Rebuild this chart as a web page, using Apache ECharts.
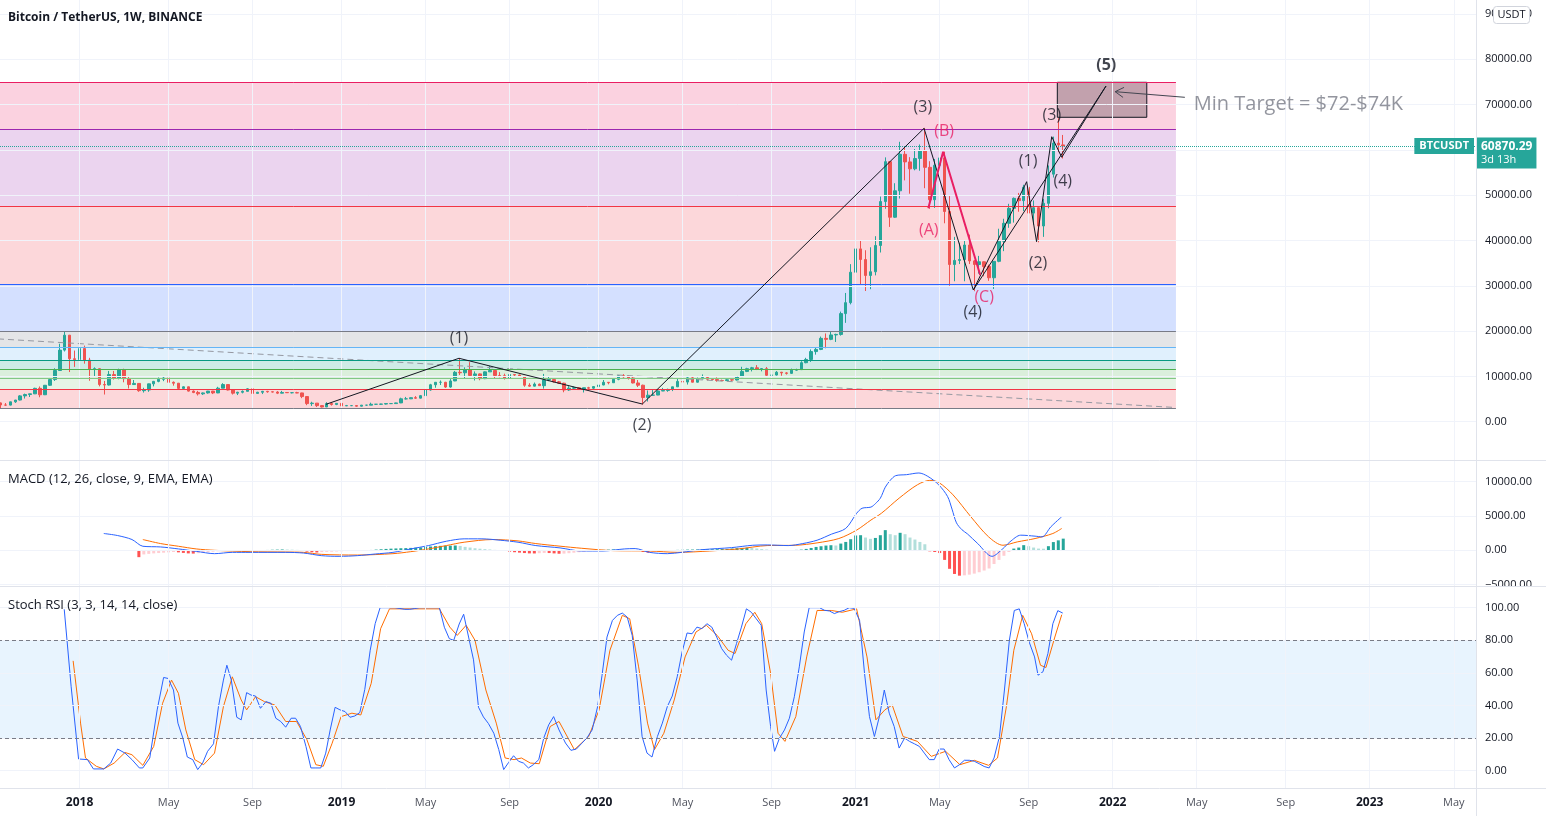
<!DOCTYPE html>
<html>
<head>
<meta charset="utf-8">
<title>Bitcoin / TetherUS, 1W, BINANCE</title>
<script src="https://cdn.jsdelivr.net/npm/echarts@6/dist/echarts.min.js"></script>
<style>
html, body { margin: 0; padding: 0; background: #fff; }
#chart { width: 1546px; height: 816px; }
</style>
</head>
<body>
<div id="chart"></div>
<script>
// weekly bars, first visible week 2017-09-11
const firstWeek = Date.UTC(2017, 8, 11)
const weekCount = 299
const tickWeeks = [
  '2018-01-01', '2018-05-07', '2018-09-03', '2019-01-07', '2019-05-06', '2019-09-02',
  '2020-01-06', '2020-05-04', '2020-09-07', '2021-01-04', '2021-05-03', '2021-09-06',
  '2022-01-03', '2022-05-02', '2022-09-05', '2023-01-02', '2023-05-01'
]
const priceTicks = [0, 10000, 20000, 30000, 40000, 50000, 60000, 70000, 80000, 90000]
const macdTicks = [-5000, 0, 5000, 10000]
const stochTicks = [0, 20, 40, 60, 80, 100]

// [open, close, low, high]
const candles2017 = [
  [4150, 3690, 2817, 4250], [3690, 3660, 3500, 4120], [3660, 4380, 3600, 4400], [4380, 4780, 4150, 4800],
  [4780, 5700, 4700, 5860], [5700, 6000, 5110, 6200], [6000, 6150, 5450, 6170], [6150, 7360, 6100, 7500],
  [7360, 5950, 5400, 7776], [5950, 8040, 5880, 8100], [8040, 9300, 7900, 9650], [9300, 11300, 9000, 11800],
  [11300, 15800, 11200, 17204], [15800, 19100, 15500, 19798], [19100, 13900, 10961, 19150], [13900, 13715, 12100, 15700]
]
const candles2018 = [
  [13715, 16150, 12750, 17252], [16150, 13600, 12812, 16800], [13600, 11600, 9035, 14100], [11600, 11700, 10000, 12000],
  [11700, 8200, 7800, 11800], [8200, 8100, 6000, 9000], [8100, 10400, 8000, 11200], [10400, 9600, 9300, 11200],
  [9600, 11400, 9350, 11700], [11400, 9500, 8700, 11700], [9500, 8200, 7322, 9900], [8200, 8450, 8100, 9200],
  [8450, 6850, 6600, 8500], [6850, 7000, 6430, 7500], [7000, 8350, 6600, 8400], [8350, 8900, 7800, 9000],
  [8900, 9350, 8700, 9760], [9350, 9650, 8950, 9990], [9650, 8700, 8400, 9650], [8700, 8500, 7950, 8880],
  [8500, 7350, 7060, 8550], [7350, 7700, 7100, 7800], [7700, 6750, 6650, 7760], [6750, 6450, 6300, 6900],
  [6450, 6150, 5780, 6800], [6150, 6350, 5900, 6450], [6350, 6750, 6200, 6800], [6750, 6350, 6100, 6800],
  [6350, 7400, 6300, 7700], [7400, 8200, 7400, 8500], [8200, 7000, 6900, 8250], [7000, 6300, 6000, 7150],
  [6300, 6500, 5880, 6600], [6500, 6700, 6250, 6900], [6700, 7250, 6700, 7400], [7250, 6250, 6100, 7400],
  [6250, 6500, 6200, 6600], [6500, 6700, 6100, 6800], [6700, 6600, 6400, 6800], [6600, 6550, 6460, 6650],
  [6550, 6300, 6100, 6750], [6300, 6450, 6250, 6800], [6450, 6400, 6350, 6530], [6400, 6400, 6250, 6540],
  [6400, 6350, 6300, 6600], [6350, 5550, 5200, 6400], [5550, 4000, 3650, 5650], [4000, 4100, 3480, 4400],
  [4100, 3550, 3250, 4100], [3550, 3250, 3150, 3630], [3250, 4000, 3250, 4300], [4000, 3800, 3550, 4230],
  [3800, 4050, 3650, 4100]
]
const candles2019 = [
  [4050, 3500, 3450, 4150], [3500, 3550, 3500, 3700], [3550, 3550, 3450, 3650], [3550, 3430, 3350, 3600],
  [3430, 3650, 3370, 3700], [3650, 3650, 3550, 3700], [3650, 3850, 3650, 4200], [3850, 3850, 3700, 3900],
  [3850, 3900, 3700, 3950], [3900, 4000, 3800, 4000], [4000, 4000, 3900, 4100], [4000, 4150, 3950, 4200],
  [4150, 5050, 4100, 5300], [5050, 5050, 4900, 5470], [5050, 5300, 5000, 5350], [5300, 5200, 5050, 5650],
  [5200, 5750, 5150, 5900], [5750, 7000, 5600, 7450], [7000, 8150, 6850, 8350], [8150, 8700, 7500, 8750],
  [8700, 8700, 8100, 9100], [8700, 7650, 7450, 8800], [7650, 9000, 7500, 9400], [9000, 10900, 8950, 11200],
  [10900, 10800, 10300, 13970], [10800, 11450, 9600, 12000], [11450, 10200, 10000, 13150], [10200, 10550, 9100, 11100],
  [10550, 9500, 9150, 10650], [9500, 11000, 9400, 11100], [11000, 11300, 11000, 12300], [11300, 10200, 9450, 11400],
  [10200, 10150, 9800, 10950], [10150, 9600, 9300, 10600], [9600, 10400, 9600, 10900], [10400, 10300, 9950, 10450],
  [10300, 10000, 9900, 10400], [10000, 8050, 7710, 10050], [8050, 7850, 7750, 8500], [7850, 8300, 7800, 8650],
  [8300, 7950, 7900, 8400], [7950, 9200, 7300, 10550], [9200, 9300, 8950, 9900], [9300, 8800, 8650, 9500],
  [8800, 8500, 8350, 9000], [8500, 7000, 6500, 8600], [7000, 7400, 6800, 7850], [7400, 7500, 7100, 7750],
  [7500, 7100, 7050, 7650], [7100, 7500, 6450, 7520], [7500, 7400, 7100, 7700], [7400, 7750, 7000, 7800]
]
const candles2020 = [
  [7750, 8100, 7700, 8450], [8100, 8700, 8050, 9200], [8700, 8600, 8250, 8750], [8600, 9350, 8600, 9600],
  [9350, 10150, 9150, 10200], [10150, 9900, 9700, 10500], [9900, 9650, 9300, 10250], [9650, 8550, 8450, 9950],
  [8550, 8050, 7650, 9200], [8050, 5350, 3782, 8180], [5350, 5850, 4450, 6900], [5850, 5880, 5670, 6980],
  [5880, 6770, 5850, 7200], [6770, 6900, 6750, 7470], [6900, 7120, 6600, 7300], [7120, 7700, 6750, 7720],
  [7700, 8900, 7650, 9480], [8900, 8750, 8100, 10070], [8750, 9680, 8200, 9950], [9680, 8720, 8680, 9900],
  [8720, 9450, 8630, 9740], [9450, 9750, 9380, 10430], [9750, 9380, 9120, 9990], [9380, 9300, 9200, 9590],
  [9300, 9100, 8830, 9780], [9100, 9080, 8950, 9300], [9080, 9250, 9050, 9480], [9250, 9200, 9000, 9300],
  [9200, 9950, 9100, 10000], [9950, 11100, 9950, 12120], [11100, 11700, 10950, 11900], [11700, 11900, 11100, 12100],
  [11900, 11650, 11400, 12490], [11650, 11700, 11120, 11800], [11700, 10250, 9900, 12080], [10250, 10300, 9900, 10600],
  [10300, 10920, 10200, 11180], [10920, 10770, 10140, 10990], [10770, 10670, 10400, 10950], [10670, 11380, 10550, 11720],
  [11380, 11500, 11250, 11700], [11500, 13030, 11400, 13350], [13030, 13740, 12900, 14100], [13740, 15480, 13200, 15960],
  [15480, 15960, 14800, 16480], [15960, 18400, 15800, 18800], [18400, 18180, 16200, 19480], [18180, 19150, 18000, 19920],
  [19150, 19260, 17600, 19420], [19260, 23860, 19000, 24300], [23860, 26280, 21820, 28420], [26280, 33000, 25900, 34780]
]
const candles2021 = [
  [33000, 38150, 27700, 41950], [38150, 35800, 30400, 40100], [35800, 32280, 28850, 37850], [32280, 33100, 29250, 38500],
  [33100, 38900, 32300, 40950], [38900, 48600, 37350, 49700], [48600, 57400, 47000, 58350], [57400, 45140, 43000, 57550],
  [45140, 50970, 45000, 52640], [50970, 59030, 49270, 61790], [59030, 57350, 53270, 60630], [57350, 55820, 50330, 58400],
  [55820, 58100, 55500, 60200], [58100, 59800, 55400, 61200], [59800, 56150, 51540, 64854], [56150, 49000, 47000, 57500],
  [49000, 56600, 47200, 58000], [56600, 58230, 53000, 59500], [58230, 46400, 43800, 59600], [46400, 34700, 30000, 49800],
  [34700, 35600, 31000, 40800], [35600, 35800, 34800, 39500], [35800, 39000, 31000, 40000], [39000, 35500, 34800, 41300],
  [35500, 34700, 28805, 35700], [34700, 35300, 32700, 36600], [35300, 34250, 32100, 35400], [34250, 31780, 31100, 34650],
  [31780, 35400, 29300, 35400], [35400, 39850, 35200, 42600], [39850, 43800, 37650, 44800], [43800, 47100, 42800, 48100],
  [47100, 49300, 43950, 49500], [49300, 48800, 46350, 50500], [48800, 51750, 46500, 52300], [51750, 46050, 42800, 52920],
  [46050, 47250, 43500, 48850], [47250, 43200, 39600, 47330], [43200, 48200, 40800, 49200], [48200, 54650, 47100, 56560],
  [54650, 61500, 53900, 62933], [61500, 61100, 59500, 67000], [61100, 60870, 58100, 63300]
]
const lastPrice = 60870.29
const barCountdown = '3d 13h'

// fibonacci extension levels (price) and their colours
const fibPrices = [2960, 7150, 9580, 11570, 13550, 16420, 19870, 30400, 47620, 64500, 74990]
const fibColors = ['#787b86', '#f23645', '#81c784', '#4caf50', '#089981', '#64b5f6', '#787b86', '#2962ff', '#f23645', '#9c27b0', '#e91e63']
const fibSpan = [-0.5, 237.8] // week index range of the fib tool

// drawings, [week index, price]
const trendDashed = [[-0.5, 18280], [237.8, 3130]]
const waveMain = [[65.86, 3840], [92.76, 14000], [129.85, 3900], [186.84, 64770], [196.8, 29070]]
const waveLong = [[196.8, 29070], [223.65, 74100]]
const waveSub = [[196.8, 29070], [207.6, 52980], [209.6, 39740], [212.67, 62910], [214.7, 58370], [223.65, 74100]]
const waveABC = [[187.7, 47110], [190.7, 59600], [198.2, 32380]]
const targetBox = [[213.8, 67200], [231.9, 74920]]
const arrowShaft = [[239.6, 71610], [225.5, 72850]]
const arrowHead = [[227.3, 73800], [225.5, 72850], [227.1, 71590]]
const waveLabels = [
  [92.76, 18480, '(1)'], [129.8, -730, '(2)'], [186.6, 69470, '(3)'], [196.7, 24220, '(4)'],
  [207.9, 57550, '(1)'], [209.9, 35030, '(2)'], [212.7, 67700, '(3)'], [214.9, 53130, '(4)']
]
const abcLabels = [[187.8, 42320, '(A)'], [190.9, 64170, '(B)'], [199.0, 27530, '(C)']]
const fifthLabel = [223.7, 78740, '(5)']
const targetNote = [241.3, 70130, 'Min Target = $72-$74K']

// MACD (12, 26, close, 9), [week index, value]
const macdLine = [
  [20.9, 2450], [23.7, 2150], [26.6, 1570], [28.8, 590], [32.4, 490], [36, 200], [39.6, -150], [43.3, -490],
  [46.9, -300], [50.5, -300], [57.7, -300], [61.3, -400], [64.9, -780], [68.5, -880], [72.2, -780], [75.8, -540],
  [79.4, -300], [83, 200], [86.6, 690], [90.2, 1320], [93.8, 1670], [97.4, 1670], [101.1, 1470], [104.7, 1180],
  [108.3, 690], [113.2, 350], [117.5, -100], [121.9, -100], [126.2, 200], [128.4, 250], [131.3, -300], [134.9, -490],
  [137.8, -300], [142.1, 100], [147.9, 390], [152.2, 735], [155.1, 780], [159.4, 690], [162.3, 980], [165.2, 1470],
  [168.1, 2350], [171, 3190], [173.2, 5390], [174.3, 6125], [176.1, 6300], [177, 6800], [178, 7600], [179, 9200],
  [180, 10200], [181.1, 10880], [183.3, 11025], [185.8, 11270], [187.6, 10780], [189.8, 9555], [191.6, 7840],
  [192.5, 6000], [193.4, 4000], [194.5, 3000], [195.6, 2400], [197.7, 980], [200.6, -880], [202.8, 245],
  [204.2, 1225], [206.4, 2205], [209.3, 2060], [210.7, 1960], [212.5, 3430], [214.7, 4900]
]
const macdSignal = [
  [28.8, 1570], [32.4, 980], [36, 590], [39.6, 200], [43.3, 0], [50.5, -200], [57.7, -250], [61.3, -300],
  [64.9, -590], [72.2, -690], [79.4, -490], [83, -200], [86.6, 200], [90.2, 690], [93.8, 1180], [99.6, 1570],
  [104.7, 1370], [108.3, 980], [113.2, 600], [117.5, 300], [124, -50], [131.3, -100], [137, -300], [143.5, -100],
  [149.3, 200], [155.1, 690], [160.9, 735], [165.2, 1080], [169.6, 1715], [173.2, 2940], [176.1, 4410], [178.2, 5390],
  [181.8, 7600], [185.5, 9555], [188, 10190], [189.8, 9900], [192.7, 8085], [196.3, 4900], [199.9, 1960],
  [202.8, 735], [205.7, 1225], [209.3, 1715], [212.9, 2450], [214.7, 3185]
]
const histStart = 28
const macdHist = [
  -1000, -600, -520, -450, -400, -350, -300, -250, -300, -380,
  -450, -480, -420, -350, -280, -200, -150, -100, -60, -80,
  -70, -50, -40, -30, -10, 30, 50, 80, 100, 120,
  110, 90, 60, -100, -200, -280, -320, -260, -220, -200,
  -170, -140, -110, -90, -70, -50, -20, 50, 100, 150,
  200, 240, 270, 300, 320, 350, 380, 420, 480, 550,
  610, 650, 660, 680, 700, 640, 500, 400, 300, 230,
  170, 120, 60, 20, -100, -200, -280, -340, -400, -450,
  -460, -420, -380, -400, -450, -500, -480, -420, -350, -280,
  -200, -120, -60, 20, 60, 100, 130, 110, 70, 30,
  -30, -100, -250, -350, -300, -230, -160, -90, -30, 60,
  80, 100, 110, 120, 130, 140, 150, 160, 180, 200,
  260, 320, 350, 380, 330, 260, 180, 110, 60, 20,
  -20, -30, 10, 60, 100, 200, 340, 490, 590, 690,
  740, 700, 980, 1220, 1620, 2160, 2200, 1860, 1670, 1800,
  2200, 2940, 2350, 2200, 2550, 2350, 1860, 1570, 1220, 880,
  -150, -250, -400, -1400, -2700, -3450, -3700, -3650, -3550, -3400,
  -3200, -2950, -2650, -2000, -1400, -800, -250, 250, 400, 750,
  600, 400, 250, 230, 600, 1200, 1450, 1700
]

// Stoch RSI (3, 3, 14, 14), [week index, value]
const stochK = [
  [12.9, 99], [14.3, 51.5], [15.8, 7.2], [17.6, 6.8], [18.8, 1.1], [20.9, 1.1], [22.3, 4.7], [23.7, 13.3],
  [25.2, 10.8], [26.6, 6.8], [28.1, 1.7], [28.8, 1.7], [30.2, 7.8], [31.7, 37.3], [33, 57.2], [33.9, 56.6],
  [35, 49.5], [35.9, 29.2], [36.9, 20], [37.8, 8.4], [38.9, 6.8], [39.9, 0.7], [40.9, 4.7], [41.9, 11.9],
  [43.1, 16.5], [44.1, 39.3], [45.1, 55.6], [45.8, 64.7], [46.7, 55.6], [47.8, 32.8], [48.7, 31.2], [49.8, 47.9],
  [50.7, 46.4], [51.6, 45.8], [52.6, 38.3], [53.7, 42.4], [54.7, 41.4], [55.7, 32.2], [56.7, 30.2], [57.7, 26.7],
  [58.8, 32.2], [59.7, 32.2], [60.7, 27.1], [61.8, 14.9], [62.8, 1.7], [63.8, 1.7], [64.8, 1.7], [65.8, 10.8],
  [66.7, 25], [67.7, 38.9], [68.7, 37.3], [69.7, 36.3], [70.7, 32.8], [71.7, 33.6], [72.7, 35.7], [73.7, 49.9],
  [74.8, 73.9], [75.8, 90.2], [76.8, 100], [77.8, 100], [78.8, 100], [79.8, 100], [80.8, 99.5], [81.8, 99],
  [82.8, 99], [83.8, 99.5], [84.8, 100], [85.8, 100], [86.8, 100], [87.8, 100], [88.8, 100], [89.8, 88],
  [90.8, 81], [91.7, 80], [92.8, 90], [93.7, 96], [94.7, 82], [95.7, 68], [96.7, 39], [97.7, 33],
  [98.7, 29], [99.8, 23], [100.8, 13], [101.8, 0.7], [102.8, 5.1], [103.8, 9.2], [104.8, 5.8], [105.8, 4.7],
  [106.8, 1.7], [107.8, 3.7], [108.9, 6.8], [109.9, 20], [110.9, 28.1], [111.9, 33.2], [113, 25], [114.3, 17],
  [115.4, 12.5], [116.5, 13.3], [117.5, 16.5], [118.6, 20], [119.7, 25], [120.8, 39.3], [121.7, 58.6], [122.7, 82],
  [123.8, 92.2], [124.8, 95.3], [125.8, 96.7], [126.8, 94.2], [127.8, 83], [128.8, 55.6], [129.8, 21], [130.8, 10.8],
  [131.8, 8.4], [132.9, 21], [133.9, 29.2], [134.9, 39.3], [135.9, 45.8], [136.9, 57.6], [137.9, 72.9], [138.9, 84.5],
  [139.9, 84], [140.9, 88.1], [141.9, 87.1], [142.9, 90.2], [143.9, 88.1], [144.9, 82], [145.9, 74.9], [146.9, 70.8],
  [147.9, 67.8], [148.9, 78], [149.9, 88.1], [150.9, 99.3], [151.9, 97.2], [152.9, 93.2], [153.9, 89.2], [154.9, 49.5],
  [155.8, 27.1], [156.6, 11.9], [157.6, 20], [158.6, 25], [159.6, 32.2], [160.6, 45.4], [161.6, 63.7], [162.6, 85.1],
  [163.6, 100], [164.6, 100], [165.7, 100], [166.7, 98.4], [167.7, 98], [168.7, 96.4], [169.7, 97.6], [170.7, 98.4],
  [171.7, 100], [172.7, 99.6], [173.8, 92.2], [174.8, 59.7], [175.8, 33.2], [176.8, 21], [177.8, 33.2], [178.8, 49.5],
  [179.8, 35.3], [180.8, 27.1], [181.8, 13.9], [182.9, 20], [183.9, 18], [184.9, 16.5], [185.9, 14.9], [186.9, 10.8],
  [187.9, 6.8], [188.9, 6.8], [189.9, 13.3], [190.9, 13.3], [191.9, 6.8], [193, 1.7], [194, 3.7], [195, 6.4],
  [196, 6.4], [197, 5.8], [198, 4.3], [199, 2.6], [200, 1.7], [201, 7.8], [202.1, 21], [203.1, 49.5],
  [204.1, 80], [205.1, 98.3], [206.1, 99.3], [207.1, 90.2], [208.1, 79], [209.2, 69.8], [209.9, 58.6], [210.9, 60.7],
  [211.9, 71.9], [212.9, 90.2], [213.9, 98.2], [214.9, 96.7]
]
const stochD = [
  [14.7, 67.4], [16.2, 29.2], [17.2, 7.8], [19.4, 2.7], [20.9, 1.1], [23, 4.7], [25.2, 11.2], [26.6, 9.8],
  [28.8, 3.3], [31, 14.9], [32.8, 41.4], [34.6, 55.6], [36, 47.5], [37.5, 25], [39.3, 6.8], [41.1, 3.7],
  [43.3, 10.8], [45.1, 39.3], [46.9, 57.6], [48.7, 43.4], [49.8, 37.3], [51.6, 45.4], [53.4, 42.4], [55.5, 40.3],
  [57.7, 30.2], [59.9, 30.2], [62, 19], [63.8, 3.7], [65.3, 2.7], [67.1, 16.9], [68.9, 33.2], [71.1, 35.3],
  [72.9, 34.2], [75, 53.6], [76.9, 87.1], [78.7, 99.3], [88.8, 99.3], [90.9, 88.1], [92.4, 83], [94.2, 89.2],
  [96, 80], [98.2, 49.5], [100.3, 29.2], [102.1, 7.8], [103.9, 6.8], [105.4, 7.8], [107.2, 4.7], [109, 4.3],
  [111.2, 27.1], [113, 30.2], [116.1, 12.9], [119, 21], [121.1, 37.3], [123.3, 73.9], [125.8, 95.3], [127.3, 93.2],
  [129.1, 63.7], [130.9, 29.2], [132.3, 12.9], [134.2, 23], [136.3, 43.4], [138.5, 69.8], [140.7, 85.1], [142.8, 89.2],
  [145, 83], [147.2, 73.9], [148.6, 71.9], [150.8, 90.2], [152.6, 97.2], [154, 90.2], [155.8, 59.7], [157.3, 23],
  [158.7, 18], [160.9, 33.2], [163.1, 69.8], [165.2, 98.3], [168.1, 98.3], [170.3, 97.2], [173.2, 99.3], [175.3, 69.8],
  [177.1, 31.2], [178.9, 37.3], [180.4, 40.3], [182.6, 21], [185.5, 18], [188.3, 8.8], [191.2, 11.9], [194.1, 3.7],
  [197, 6.4], [199.9, 3.3], [201.7, 7.8], [203.5, 39.3], [205, 73.9], [206.8, 95.3], [208.6, 84], [210.4, 64.7],
  [211.5, 63.3], [213.3, 82], [214.7, 95.7]
]

const FONT = '"Open Sans", "Noto Sans", sans-serif'
const UP = '#26a69a'
const DOWN = '#ef5350'

function rgba(hex, a) {
  const n = parseInt(hex.slice(1), 16)
  return 'rgba(' + (n >> 16) + ',' + ((n >> 8) & 255) + ',' + (n & 255) + ',' + a + ')'
}
function fmt2(v) {
  return v < 0 ? '\u2212' + Math.abs(v).toFixed(2) : v.toFixed(2)
}

const weeks = []
for (let i = 0; i < weekCount; i++) {
  weeks.push(new Date(firstWeek + i * 6048e5).toISOString().slice(0, 10))
}
const tickSet = new Set(tickWeeks)
const monthName = { '05': 'May', '09': 'Sep' }
const candles = [].concat(candles2017, candles2018, candles2019, candles2020, candles2021)

const chart = echarts.init(document.getElementById('chart'))

const grids = [
  { left: -2, right: 70, top: 0, height: 460, outerBoundsMode: 'none' },
  { left: -2, right: 70, top: 461, height: 125, outerBoundsMode: 'none' },
  { left: -2, right: 70, top: 587, height: 201, outerBoundsMode: 'none' }
]

const catAxes = [0, 1, 2].map(g => ({
  type: 'category',
  gridIndex: g,
  data: weeks,
  boundaryGap: true,
  axisLine: { show: false },
  axisTick: { show: false },
  splitLine: { show: false },
  axisLabel: g === 2 ? {
    show: true,
    interval: (i, v) => tickSet.has(v),
    margin: 9,
    formatter: v => v.slice(5, 7) === '01' ? '{y|' + v.slice(0, 4) + '}' : '{m|' + monthName[v.slice(5, 7)] + '}',
    rich: {
      y: { fontSize: 12, fontWeight: 'bold', color: '#131722', fontFamily: FONT },
      m: { fontSize: 11, color: '#50535e', fontFamily: FONT }
    }
  } : { show: false }
}))
// same mapping as the category axes, lets drawings sit between bars
const valAxes = [0, 1, 2].map(g => ({
  type: 'value', gridIndex: g, min: -0.5, max: weekCount - 0.5, show: false, position: 'top'
}))

function yAxisFor(g, min, max, ticks) {
  return {
    type: 'value', gridIndex: g, position: 'right', min: min, max: max,
    axisLine: { show: false }, axisTick: { show: false }, splitLine: { show: false },
    axisLabel: {
      customValues: ticks, formatter: fmt2, margin: 9,
      color: '#131722', fontSize: 11, fontFamily: FONT
    }
  }
}

function gridLines(g, ticks) {
  return {
    type: 'line', xAxisIndex: 3 + g, yAxisIndex: g, data: [], z: 0, silent: true,
    markLine: {
      silent: true, symbol: 'none', animation: false,
      label: { show: false },
      lineStyle: { color: '#f0f3fa', width: 1, type: 'solid' },
      data: tickWeeks.map(w => ({ xAxis: weeks.indexOf(w) })).concat(ticks.map(v => ({ yAxis: v })))
    }
  }
}

function drawLine(points, color, width, z, type) {
  return {
    type: 'line', xAxisIndex: 3, yAxisIndex: 0, data: points, z: z, silent: true,
    symbol: 'none', showSymbol: false, animation: false,
    lineStyle: { color: color, width: width, type: type || 'solid' }
  }
}

function labelSeries(items, color, size, weight, position) {
  return {
    type: 'scatter', xAxisIndex: 3, yAxisIndex: 0, z: 8, silent: true,
    symbolSize: 1, itemStyle: { color: 'rgba(0,0,0,0)' },
    data: items.map(d => ({ value: [d[0], d[1]], label: { formatter: d[2] } })),
    label: {
      show: true, position: position || 'inside', distance: 0,
      color: color, fontSize: size, fontWeight: weight, fontFamily: FONT
    }
  }
}

const fibZones = fibPrices.slice(1).map((p, k) => [
  { coord: [fibSpan[0], fibPrices[k]], itemStyle: { color: rgba(fibColors[k + 1], 0.2) } },
  { coord: [fibSpan[1], p] }
])
const fibLevelLines = fibPrices.map((p, k) => [
  { coord: [fibSpan[0], p], lineStyle: { color: fibColors[k], width: 1, type: 'solid' } },
  { coord: [fibSpan[1], p] }
])

const histData = macdHist.map((v, k) => {
  const prev = k > 0 ? macdHist[k - 1] : 0
  let c
  if (v >= 0) c = v > prev ? '#26a69a' : '#b2dfdb'
  else c = v > prev ? '#ffcdd2' : '#ff5252'
  return { value: [histStart + k, v], itemStyle: { color: c } }
})

const option = {
  animation: false,
  backgroundColor: '#ffffff',
  grid: grids,
  xAxis: catAxes.concat(valAxes),
  yAxis: [
    yAxisFor(0, -8455, 93090, priceTicks),
    yAxisFor(1, -5204, 13017, macdTicks),
    yAxisFor(2, -10.6, 112.7, stochTicks)
  ],
  graphic: [
    { type: 'text', z: 100, left: 8, top: 12, style: { text: 'Bitcoin / TetherUS, 1W, BINANCE', fontSize: 12, fontWeight: 'bold', fontFamily: FONT, fill: '#131722' } },
    { type: 'text', z: 100, left: 8, top: 473, style: { text: 'MACD (12, 26, close, 9, EMA, EMA)', fontSize: 13, fontFamily: FONT, fill: '#131722' } },
    { type: 'text', z: 100, left: 8, top: 599, style: { text: 'Stoch RSI (3, 3, 14, 14, close)', fontSize: 13, fontFamily: FONT, fill: '#131722' } },
    { type: 'rect', z: 100, shape: { x: 1477, y: 587, width: 69, height: 6 }, style: { fill: '#fff' } },
    { type: 'rect', z: 100, shape: { x: 1493.5, y: 6.5, width: 36, height: 17, r: 3 }, style: { fill: '#fff', stroke: '#d1d4dc', lineWidth: 1 } },
    { type: 'text', z: 101, x: 1511.5, y: 15, style: { text: 'USDT', fontSize: 11, fontFamily: FONT, fill: '#131722', align: 'center', verticalAlign: 'middle', textAlign: 'center', textVerticalAlign: 'middle' } },
    { type: 'line', z: 101, shape: { x1: 0, y1: 460.5, x2: 1546, y2: 460.5 }, style: { stroke: '#e0e3eb', lineWidth: 1 } },
    { type: 'line', z: 101, shape: { x1: 0, y1: 586.5, x2: 1546, y2: 586.5 }, style: { stroke: '#e0e3eb', lineWidth: 1 } },
    { type: 'line', z: 101, shape: { x1: 0, y1: 788.5, x2: 1546, y2: 788.5 }, style: { stroke: '#e0e3eb', lineWidth: 1 } },
    { type: 'line', z: 101, shape: { x1: 1476.5, y1: 0, x2: 1476.5, y2: 816 }, style: { stroke: '#e0e3eb', lineWidth: 1 } }
  ],
  series: [
    gridLines(0, priceTicks),
    gridLines(1, macdTicks),
    gridLines(2, stochTicks),
    // fibonacci zones
    {
      type: 'line', xAxisIndex: 3, yAxisIndex: 0, data: [], z: 1, silent: true,
      markArea: { silent: true, animation: false, data: fibZones },
      markLine: { silent: true, symbol: 'none', animation: false, label: { show: false }, data: fibLevelLines }
    },
    // stoch band
    {
      type: 'line', xAxisIndex: 5, yAxisIndex: 2, data: [], z: 1, silent: true,
      markArea: { silent: true, animation: false, data: [[{ yAxis: 20, itemStyle: { color: 'rgba(33,150,243,0.1)' } }, { yAxis: 80 }]] },
      markLine: {
        silent: true, symbol: 'none', animation: false, label: { show: false },
        lineStyle: { color: '#787b86', width: 1, type: [4, 3] },
        data: [{ yAxis: 80 }, { yAxis: 20 }]
      }
    },
    {
      type: 'candlestick', xAxisIndex: 0, yAxisIndex: 0, z: 3, silent: true,
      data: candles, barWidth: 3,
      itemStyle: { color: UP, color0: DOWN, borderColor: UP, borderColor0: DOWN, borderColorDoji: UP, borderWidth: 1 }
    },
    // target rectangle
    {
      type: 'line', xAxisIndex: 3, yAxisIndex: 0, data: [], z: 4, silent: true,
      markArea: {
        silent: true, animation: false,
        data: [[
          { coord: targetBox[0], itemStyle: { color: 'rgba(80,60,70,0.33)', borderColor: '#131722', borderWidth: 1 } },
          { coord: targetBox[1] }
        ]]
      }
    },
    drawLine(trendDashed, '#9598a1', 1, 4, [6, 4]),
    drawLine(waveMain, '#131722', 1, 5),
    drawLine(waveLong, '#131722', 1, 5),
    drawLine(waveSub, '#131722', 1, 5),
    drawLine(waveABC, '#e91e63', 2, 5),
    drawLine(arrowShaft, '#434651', 1, 5),
    drawLine(arrowHead, '#434651', 1, 5),
    // last price line and its labels
    {
      type: 'line', xAxisIndex: 3, yAxisIndex: 0, data: [], z: 6, silent: true,
      markLine: {
        silent: true, symbol: 'none', animation: false,
        data: [
          {
            yAxis: lastPrice,
            lineStyle: { color: UP, type: 'dotted', width: 1 },
            label: {
              show: true, position: 'end', distance: 1, offset: [0, 7],
              formatter: '{p|' + lastPrice.toFixed(2) + '}\n{t|' + barCountdown + '}',
              backgroundColor: UP, padding: [2, 4, 2, 4],
              rich: {
                p: { fontSize: 12, fontWeight: 'bold', color: '#fff', fontFamily: FONT, lineHeight: 14 },
                t: { fontSize: 11, color: '#fff', fontFamily: FONT, lineHeight: 13 }
              }
            }
          },
          {
            yAxis: lastPrice,
            lineStyle: { color: 'rgba(0,0,0,0)', width: 1 },
            label: {
              show: true, position: 'insideEnd', distance: 2,
              formatter: 'BTCUSDT', backgroundColor: UP, padding: [3, 5, 2, 5],
              color: '#fff', fontSize: 11, fontWeight: 'bold', fontFamily: FONT
            }
          }
        ]
      }
    },
    labelSeries(waveLabels, '#131722', 16, 'normal'),
    labelSeries(abcLabels, '#e91e63', 16, 'normal'),
    labelSeries([fifthLabel], '#131722', 16, 'bold'),
    labelSeries([targetNote], '#787b86', 20, 'normal', 'right'),
    // MACD
    {
      type: 'bar', xAxisIndex: 1, yAxisIndex: 1, z: 2, silent: true,
      data: histData, barWidth: 3
    },
    {
      type: 'line', xAxisIndex: 4, yAxisIndex: 1, z: 3, silent: true, data: macdSignal,
      symbol: 'none', smooth: 0.3, lineStyle: { color: '#ff6d00', width: 1 }
    },
    {
      type: 'line', xAxisIndex: 4, yAxisIndex: 1, z: 3, silent: true, data: macdLine,
      symbol: 'none', smooth: 0.3, lineStyle: { color: '#2962ff', width: 1 }
    },
    // Stoch RSI
    {
      type: 'line', xAxisIndex: 5, yAxisIndex: 2, z: 3, silent: true, data: stochD,
      symbol: 'none', lineStyle: { color: '#ff6d00', width: 1 }
    },
    {
      type: 'line', xAxisIndex: 5, yAxisIndex: 2, z: 3, silent: true, data: stochK,
      symbol: 'none', lineStyle: { color: '#2962ff', width: 1 }
    }
  ]
}

chart.setOption(option)
</script>
</body>
</html>
